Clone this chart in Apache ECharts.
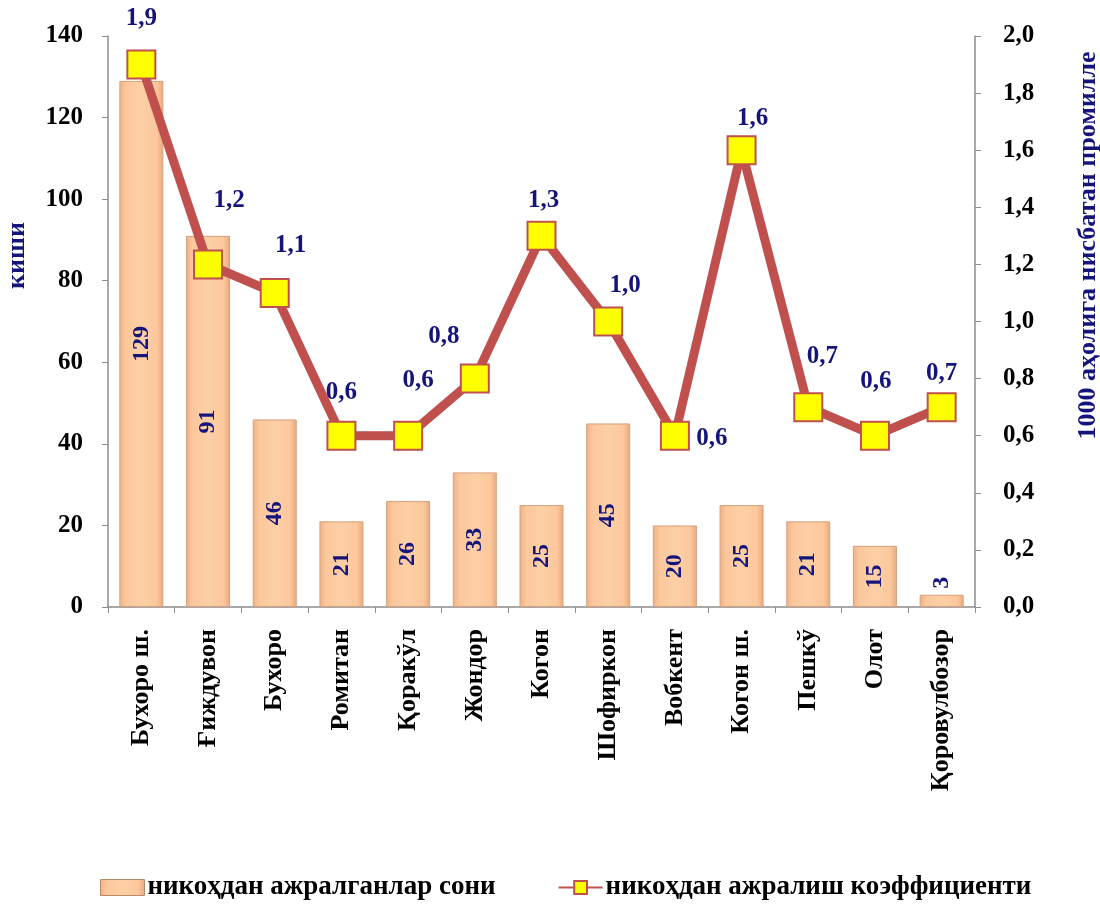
<!DOCTYPE html>
<html>
<head>
<meta charset="utf-8">
<script src="https://cdn.jsdelivr.net/npm/echarts@6/dist/echarts.min.js"></script>
<style>
  html, body { margin: 0; padding: 0; background: #fff; }
  #chart { width: 1100px; height: 908px; }
</style>
</head>
<body>
<div id="chart"></div>
<script>
const categories = ['Бухоро ш.', 'Ғиждувон', 'Бухоро', 'Ромитан', 'Қоракўл', 'Жондор', 'Когон',
  'Шофиркон', 'Вобкент', 'Когон ш.', 'Пешкў', 'Олот', 'Қоровулбозор'];
const divorces = [129, 91, 46, 21, 26, 33, 25, 45, 20, 25, 21, 15, 3];
const coefficient = [1.9, 1.2, 1.1, 0.6, 0.6, 0.8, 1.3, 1.0, 0.6, 1.6, 0.7, 0.6, 0.7];
const leftTicks = { min: 0, max: 140, interval: 20 };
const rightTicks = { min: 0, max: 2, interval: 0.2 };

// где подписи линии стоят относительно точки
const lineLabelOffsets = [[0, -46], [21, -64], [16, -47], [0, -43], [10, -55], [-31, -42], [2, -35],
  [17, -36], [37, 3], [11, -32], [14, -51], [1, -54], [0, -34]];

const navy = '#14147a';
const serif = '"Liberation Serif", "Times New Roman", serif';
const comma = v => v.toFixed(1).replace('.', ',');

const barColor = {
  type: 'linear', x: 0, y: 0, x2: 1, y2: 0,
  colorStops: [
    { offset: 0, color: '#efb186' },
    { offset: 0.15, color: '#fcc79c' },
    { offset: 0.5, color: '#fdcfa6' },
    { offset: 0.85, color: '#fcc79c' },
    { offset: 1, color: '#e8a97e' }
  ]
};

const myChart = echarts.init(document.getElementById('chart'));

const option = {
  backgroundColor: '#fff',
  animation: false,
  grid: { left: 108, right: 125, top: 36, bottom: 301, outerBoundsMode: 'none', containLabel: false },
  legend: {
    bottom: 2,
    left: 95,
    itemGap: 62,
    itemWidth: 44,
    itemHeight: 16,
    textStyle: { fontFamily: serif, fontWeight: 'bold', fontSize: 27, color: '#000', padding: [0, 0, 0, -2] },
    data: [
      { name: 'никоҳдан ажралганлар сони', icon: 'rect', itemStyle: { color: barColor, borderColor: '#b88a6a', borderWidth: 1 } },
      { name: 'никоҳдан ажралиш коэффициенти' }
    ]
  },
  xAxis: {
    type: 'category',
    data: categories,
    axisLine: { lineStyle: { color: '#8c8c8c', width: 1.5 } },
    axisTick: { show: true, alignWithLabel: false, length: 6, lineStyle: { color: '#8c8c8c' } },
    axisLabel: {
      rotate: 90, interval: 0, margin: 22,
      fontFamily: serif, fontWeight: 'bold', fontSize: 26, color: '#000'
    }
  },
  yAxis: [
    {
      type: 'value',
      min: leftTicks.min, max: leftTicks.max, interval: leftTicks.interval,
      name: 'киши',
      nameLocation: 'middle',
      nameGap: 78,
      nameRotate: 90,
      nameTextStyle: { fontFamily: serif, fontWeight: 'bold', fontSize: 26, color: navy, padding: [0, 0, 0, 132] },
      splitLine: { show: false },
      axisLine: { show: true, lineStyle: { color: '#8c8c8c', width: 1.5 } },
      axisTick: { show: true, length: 6, lineStyle: { color: '#8c8c8c' } },
      axisLabel: { margin: 25, fontFamily: serif, fontWeight: 'bold', fontSize: 25, color: '#000' }
    },
    {
      type: 'value',
      min: rightTicks.min, max: rightTicks.max, interval: rightTicks.interval,
      name: '1000 аҳолига нисбатан промилле',
      nameLocation: 'middle',
      nameGap: 100,
      nameRotate: 90,
      nameTextStyle: { fontFamily: serif, fontWeight: 'bold', fontSize: 26, color: navy, padding: [0, 0, 0, 152] },
      splitLine: { show: false },
      axisLine: { show: true, lineStyle: { color: '#8c8c8c', width: 1.5 } },
      axisTick: { show: true, length: 6, lineStyle: { color: '#8c8c8c' } },
      axisLabel: { margin: 28, formatter: comma, fontFamily: serif, fontWeight: 'bold', fontSize: 25, color: '#000' }
    }
  ],
  series: [
    {
      name: 'никоҳдан ажралганлар сони',
      type: 'bar',
      barWidth: 44,
      yAxisIndex: 0,
      itemStyle: { color: barColor, borderColor: '#d5a07c', borderWidth: 1 },
      label: {
        show: true,
        position: 'inside',
        rotate: 90,
        fontFamily: serif, fontWeight: 'bold', fontSize: 24, color: navy
      },
      data: divorces.map(v => v < 8
        ? { value: v, label: { position: 'top', rotate: 90, align: 'left', verticalAlign: 'middle', distance: 6 } }
        : v)
    },
    {
      name: 'никоҳдан ажралиш коэффициенти',
      type: 'line',
      yAxisIndex: 1,
      symbol: 'rect',
      symbolSize: 28,
      z: 5,
      lineStyle: { color: '#c0504d', width: 9 },
      itemStyle: { color: '#ffff00', borderColor: '#c0504d', borderWidth: 2 },
      label: {
        show: true,
        position: 'inside',
        formatter: p => comma(p.value),
        fontFamily: serif, fontWeight: 'bold', fontSize: 25, color: navy
      },
      data: coefficient.map((v, i) => ({ value: v, label: { offset: lineLabelOffsets[i] } }))
    }
  ]
};

myChart.setOption(option);
</script>
</body>
</html>
